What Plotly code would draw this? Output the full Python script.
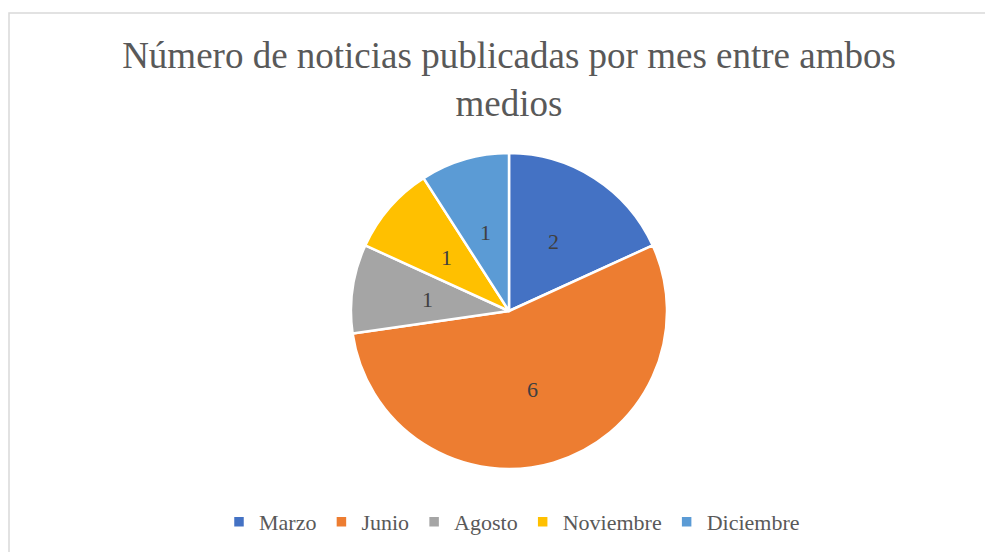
import math
import plotly.graph_objects as go

months = ["Marzo", "Junio", "Agosto", "Noviembre", "Diciembre"]
counts = [2, 6, 1, 1, 1]
colors = ["#4472C4", "#ED7D31", "#A5A5A5", "#FFC000", "#5B9BD5"]

W, H = 993, 552
OFF = 8  # page body margin in the browser
cx, cy, r = 509 - OFF, 311 - OFF, 158
SERIF = "Liberation Serif, Times New Roman, serif"


def px(x):
    return x / W


def py(y):
    return 1 - y / H


fig = go.Figure()
fig.add_trace(go.Pie(
    labels=months, values=counts, sort=False, direction="clockwise",
    marker=dict(colors=colors, line=dict(color="white", width=2.5)),
    textinfo="none",
    domain=dict(x=[px(cx - r), px(cx + r)], y=[py(cy + r), py(cy - r)]),
    hoverinfo="label+value",
))

# data labels at about half the radius, as Excel places them
total = sum(counts)
start = 0
annotations = []
for v in counts:
    mid = (start + v / 2) / total * 2 * math.pi
    start += v
    annotations.append(dict(
        x=px(cx + 0.52 * r * math.sin(mid)), y=py(cy - 0.52 * r * math.cos(mid)),
        xref="paper", yref="paper", xanchor="center", yanchor="middle",
        text=str(v), showarrow=False,
        font=dict(family=SERIF, size=22, color="#404040"),
    ))

fig.update_layout(
    width=W, height=H,
    margin=dict(l=0, r=0, t=0, b=0),
    paper_bgcolor="white",
    title=dict(text="Número de noticias publicadas por mes entre ambos<br>medios",
               x=px(509 - OFF), xanchor="center", y=py(68 - OFF), yanchor="middle",
               font=dict(family=SERIF, size=37, color="#595959")),
    legend=dict(orientation="h", x=px(512 - OFF), xanchor="center", y=py(522 - OFF), yanchor="middle",
                font=dict(family=SERIF, size=22, color="#595959"),
                itemwidth=30),
    annotations=annotations,
    shapes=[dict(type="rect", xref="paper", yref="paper",
                 x0=px(8 - OFF) + 0.001, x1=1.02, y0=-0.02, y1=py(13 - OFF),
                 line=dict(color="#D9D9D9", width=1.5))],
)

fig.write_html("out.html")
